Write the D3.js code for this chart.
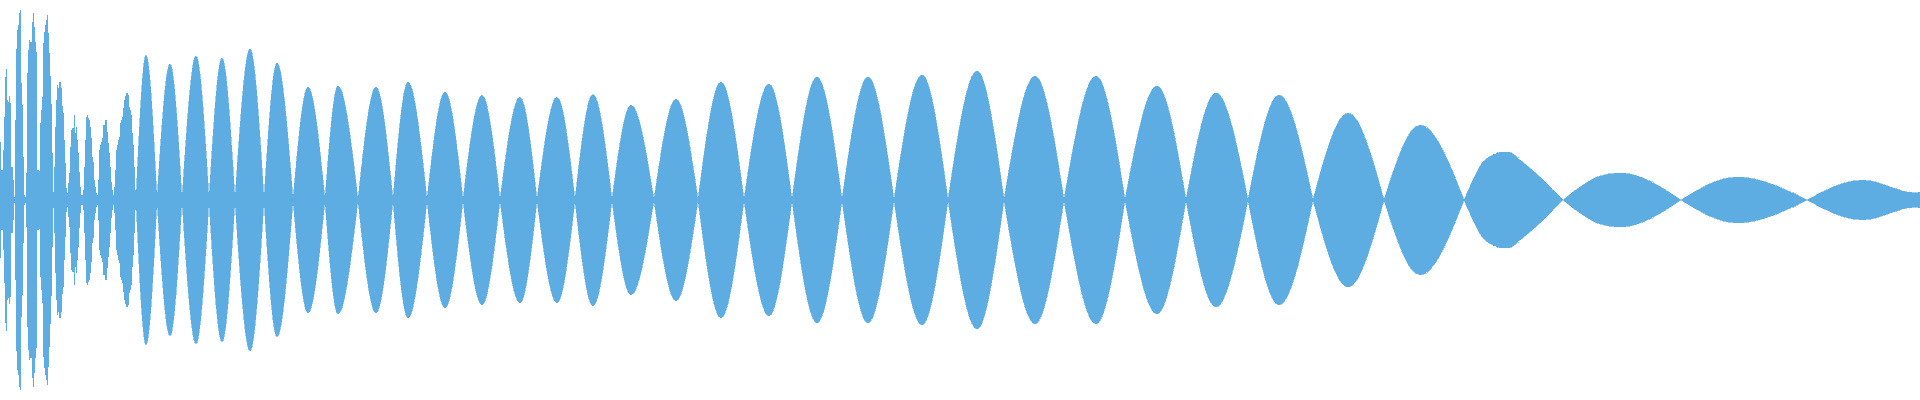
<!DOCTYPE html>
<html>
<head>
<meta charset="utf-8">
<script src="https://cdn.jsdelivr.net/npm/d3@7"></script>
<style>
  html, body { margin: 0; padding: 0; background: #ffffff; }
  svg { display: block; }
</style>
</head>
<body>
<svg id="chart" width="1920" height="400"></svg>
<script>
// Amplitude per frame for the noisy onset (frames 0..136)
const onsetAmp = [
  58, 30, 30, 50, 83, 123, 131, 100, 98, 104,
  97, 33, 33, 20, 3, 80, 151, 170, 175, 187,
  190, 117, 95, 43, 5, 3, 27, 127, 150, 160,
  158, 158, 178, 187, 173, 158, 148, 30, 30, 29,
  77, 90, 103, 157, 168, 175, 180, 185, 167, 147,
  124, 96, 47, 8, 33, 73, 100, 115, 112, 118,
  118, 112, 94, 87, 60, 37, 12, 7, 17, 27,
  53, 70, 72, 72, 85, 67, 73, 60, 47, 28,
  13, 5, 5, 10, 33, 60, 83, 85, 82, 80,
  73, 62, 43, 38, 20, 13, 7, 5, 20, 50,
  55, 58, 62, 75, 75, 80, 80, 68, 57, 47,
  33, 18, 10, 5, 13, 30, 50, 55, 60, 63,
  77, 80, 83, 92, 100, 104, 107, 107, 105, 93,
  90, 85, 67, 55, 33, 10, 5
];

// Zero-crossing frames (nodes) of the smooth part
const nodes = [136, 157, 182, 209, 235, 264, 293, 325, 358, 393, 427, 463, 500, 537, 575,
  612, 654, 698, 744, 792, 842, 894, 948, 1004, 1064, 1125, 1186, 1248, 1313, 1384,
  1464, 1563, 1681, 1807, 1920];
// Peak frame and peak amplitude of each lobe
const peakX = [146, 170, 196, 222, 250, 277, 308, 338, 376, 408, 445, 482, 520, 557, 593,
  631, 676, 721, 769, 817, 868, 922, 977, 1035, 1096, 1157, 1216, 1279, 1348, 1420,
  1503, 1620, 1737, 1863];
const peakAmp = [145, 136, 144, 142, 151, 137, 113, 114, 113, 118, 108, 105, 103, 103, 106,
  95, 101, 118, 116, 123, 123, 125, 129, 124, 124, 114, 107, 105, 87, 75,
  48, 27, 23, 20];
// Extra readings on irregular lobes
const extraX = [1468, 1474, 1482, 1490, 1497, 1510, 1520, 1540, 1553, 1583, 1597, 1915];
const extraAmp = [9, 22, 37, 43.5, 47, 47.5, 40, 23, 10, 15, 23, 7];
const endAmp = 8;

const W = 1920, H = 400;
const svg = d3.select("#chart");
svg.append("rect").attr("width", W).attr("height", H).attr("fill", "#ffffff");

const x = d3.scaleLinear().domain([0, 1920]).range([0, W]);
const y = d3.scaleLinear().domain([-200, 200]).range([H, 0]);
const color = "#5DADE2";

// onset: stepped area
const onsetPts = onsetAmp.map((a, i) => ({ t: i, a }));
onsetPts.push({ t: onsetAmp.length, a: onsetAmp[onsetAmp.length - 1] });
const stepArea = d3.area()
  .x(d => x(d.t))
  .y0(d => y(-d.a))
  .y1(d => y(d.a))
  .curve(d3.curveStepAfter);
svg.append("path").datum(onsetPts)
  .attr("d", stepArea)
  .attr("fill", color)
  .attr("shape-rendering", "crispEdges");

// smooth lobes
const lobeArea = d3.area()
  .x(d => x(d.t))
  .y0(d => y(-d.a))
  .y1(d => y(d.a))
  .curve(d3.curveMonotoneX);

const lobes = peakX.map((px, i) => {
  const t0 = nodes[i], t1 = nodes[i + 1];
  const pts = [{ t: t0, a: 0 }, { t: px, a: peakAmp[i] }];
  extraX.forEach((ex, k) => { if (ex > t0 && ex < t1) pts.push({ t: ex, a: extraAmp[k] }); });
  pts.push({ t: t1, a: i === peakX.length - 1 ? endAmp : 0 });
  pts.sort((a, b) => a.t - b.t);
  return pts;
});

svg.selectAll("path.lobe").data(lobes).join("path")
  .attr("class", "lobe")
  .attr("d", lobeArea)
  .attr("fill", color)
  .attr("stroke", color)
  .attr("stroke-width", 0.6)
  .attr("shape-rendering", "crispEdges");
</script>
</body>
</html>
